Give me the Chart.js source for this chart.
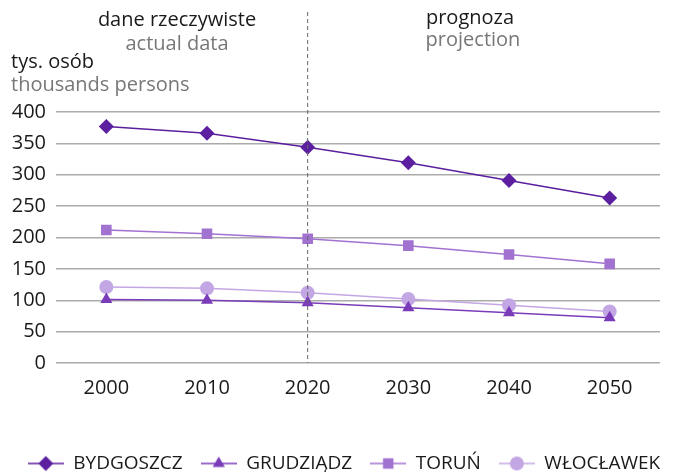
<!DOCTYPE html>
<html>
<head>
<meta charset="utf-8">
<script src="https://cdn.jsdelivr.net/npm/chart.js@4/dist/chart.umd.min.js"></script>
<style>
  html, body { margin: 0; padding: 0; background: #fff; }
  #wrap { width: 688px; height: 472px; }
</style>
</head>
<body>
<div id="wrap"><canvas id="lineChart" width="688" height="472"></canvas></div>
<script>
// Dane (tys. osób)
const years = ['2000', '2010', '2020', '2030', '2040', '2050'];
const bydgoszcz = [377, 366, 344, 319, 291, 263];
const grudziadz = [101, 100, 96, 88, 80, 72];
const torun = [212, 206, 198, 187, 173, 158];
const wloclawek = [121, 119, 112, 102, 92, 82];
const yTicks = [0, 50, 100, 150, 200, 250, 300, 350, 400];

const FONT = "'Open Sans', 'Noto Sans', sans-serif";
const colors = {
    bydgoszcz: '#5b1f9f',
    grudziadz: '#7a3cb9',
    torun: '#a272d1',
    wloclawek: '#c3a7e4'
};

/**
 * Ikona legendy: krótka linia z markerem pośrodku.
 */
function legendIcon(color, style, r) {
    const c = document.createElement('canvas');
    c.width = 36; c.height = 18;
    const g = c.getContext('2d');
    g.strokeStyle = color; g.fillStyle = color; g.lineWidth = 1.5;
    g.beginPath(); g.moveTo(0, 9); g.lineTo(36, 9); g.stroke();
    const x = 18, y = 9;
    g.beginPath();
    if (style === 'rectRot') {
        g.moveTo(x, y - r); g.lineTo(x + r, y); g.lineTo(x, y + r); g.lineTo(x - r, y);
    } else if (style === 'triangle') {
        g.moveTo(x, y - r); g.lineTo(x + r * 0.87, y + r * 0.5); g.lineTo(x - r * 0.87, y + r * 0.5);
    } else if (style === 'rect') {
        g.rect(x - r * 0.7, y - r * 0.7, r * 1.4, r * 1.4);
    } else {
        g.arc(x, y, r, 0, Math.PI * 2);
    }
    g.closePath(); g.fill();
    return c;
}

function series(label, data, color, style, radius) {
    return {
        label: label,
        data: data,
        borderColor: color,
        backgroundColor: color,
        borderWidth: 1.5,
        pointStyle: style,
        pointRadius: radius,
        pointHoverRadius: radius,
        pointBorderWidth: 0,
        tension: 0,
        legendIcon: legendIcon(color, style, radius)
    };
}

// Teksty nad wykresem i przerywana linia oddzielająca prognozę
const annotations = {
    id: 'annotations',
    afterDraw(chart) {
        const ctx = chart.ctx;
        const x = chart.scales.x;
        const area = chart.chartArea;
        const xSplit = x.getPixelForValue(2);

        ctx.save();
        ctx.strokeStyle = '#666';
        ctx.lineWidth = 1;
        ctx.setLineDash([4, 3]);
        ctx.beginPath();
        ctx.moveTo(xSplit, 12);
        ctx.lineTo(xSplit, area.bottom);
        ctx.stroke();
        ctx.setLineDash([]);

        ctx.font = '20px ' + FONT;
        ctx.textBaseline = 'middle';
        ctx.textAlign = 'center';
        ctx.fillStyle = '#1a1a1a';
        ctx.fillText('dane rzeczywiste', 177, 20);
        ctx.fillText('prognoza', 470, 18);
        ctx.fillStyle = '#777';
        ctx.fillText('actual data', 177, 44);
        ctx.fillText('projection', 473, 40);

        ctx.textAlign = 'left';
        ctx.fillStyle = '#1a1a1a';
        ctx.fillText('tys. osób', 11, 62);
        ctx.fillStyle = '#777';
        ctx.fillText('thousands persons', 11, 85);
        ctx.restore();
    }
};

function initializeChart() {
    const canvas = document.getElementById('lineChart');
    if (!canvas) return;

    new Chart(canvas.getContext('2d'), {
        type: 'line',
        data: {
            labels: years,
            datasets: [
                series('BYDGOSZCZ', bydgoszcz, colors.bydgoszcz, 'rectRot', 7.5),
                series('GRUDZIĄDZ', grudziadz, colors.grudziadz, 'triangle', 7),
                series('TORUŃ', torun, colors.torun, 'rect', 7.5),
                series('WŁOCŁAWEK', wloclawek, colors.wloclawek, 'circle', 7)
            ]
        },
        options: {
            responsive: false,
            devicePixelRatio: 1,
            animation: false,
            layout: { padding: { top: 112, left: 0, right: 0, bottom: -11 } },
            plugins: {
                title: { display: false },
                tooltip: { enabled: false },
                legend: {
                    position: 'bottom',
                    labels: {
                        usePointStyle: true,
                        pointStyleWidth: 36,
                        padding: 18,
                        color: '#1a1a1a',
                        font: { family: FONT, size: 19 },
                        generateLabels(chart) {
                            return chart.data.datasets.map((ds, i) => ({
                                text: ds.label,
                                pointStyle: ds.legendIcon,
                                fillStyle: ds.backgroundColor,
                                strokeStyle: ds.borderColor,
                                lineWidth: 0,
                                fontColor: '#1a1a1a',
                                datasetIndex: i
                            }));
                        }
                    }
                }
            },
            scales: {
                x: {
                    offset: true,
                    grid: { display: false, drawTicks: false },
                    border: { display: false },
                    ticks: { color: '#1a1a1a', font: { family: FONT, size: 20 }, padding: 13 },
                    afterFit(scale) { scale.height = 73; }
                },
                y: {
                    min: 0,
                    max: 400,
                    afterBuildTicks(scale) { scale.ticks = yTicks.map(v => ({ value: v })); },
                    grid: { color: '#ababab', lineWidth: 1.5, drawTicks: false },
                    border: { display: false },
                    ticks: { color: '#1a1a1a', font: { family: FONT, size: 20 }, padding: 10, autoSkip: false },
                    afterFit(scale) { scale.width = 56; }
                },
                // pusta oś po prawej, tylko żeby zostawić margines
                yRight: {
                    position: 'right',
                    min: 0,
                    max: 400,
                    grid: { display: false, drawTicks: false },
                    border: { display: false },
                    ticks: { display: false },
                    afterFit(scale) { scale.width = 28; }
                }
            }
        },
        plugins: [annotations]
    });
}

document.addEventListener('DOMContentLoaded', initializeChart);
</script>
</body>
</html>
